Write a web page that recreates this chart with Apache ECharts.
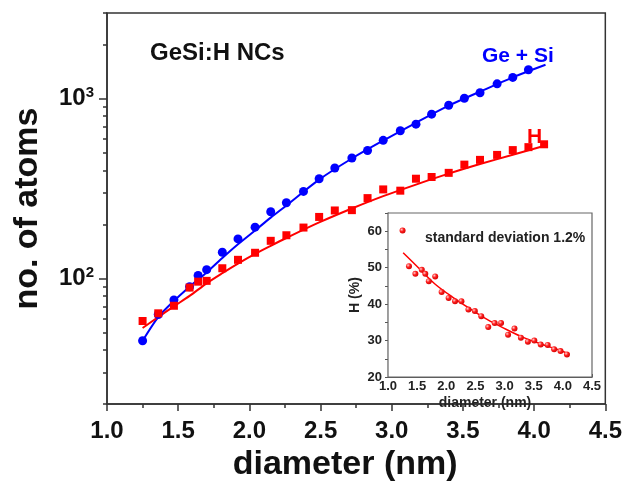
<!DOCTYPE html>
<html>
<head>
<meta charset="utf-8">
<script src="https://cdn.jsdelivr.net/npm/echarts@6/dist/echarts.min.js"></script>
<style>
  html, body { margin: 0; padding: 0; background: #fff; }
  #chart { width: 625px; height: 487px; }
</style>
</head>
<body>
<div id="chart"></div>
<script>
// Nanocrystal diameter (nm) for each measured cluster
const diameter = [1.25, 1.36, 1.47, 1.58, 1.64, 1.70, 1.81, 1.92, 2.04, 2.15, 2.26, 2.38, 2.49, 2.60,
                  2.72, 2.83, 2.94, 3.06, 3.17, 3.28, 3.40, 3.51, 3.62, 3.74, 3.85, 3.96, 4.07];
// Number of Ge + Si atoms (first 26 diameters)
const geSiAtoms = [45, 63, 76, 90, 104, 112, 140, 166, 193, 235, 264, 305, 359, 412,
                   468, 515, 587, 664, 722, 821, 920, 1007, 1080, 1211, 1314, 1449];
// Number of H atoms
const hAtoms = [58, 64, 70.5, 89, 96, 97, 114, 127, 139, 162, 174, 192, 220, 239,
                240, 280, 313, 308, 359, 367, 387, 430, 457, 487, 518, 538, 558];
// Hydrogen content (%)
const hPercent = [60.2, 50.4, 48.3, 49.4, 48.3, 46.3, 47.6, 43.3, 41.7, 40.8, 40.8, 38.5, 38.1, 36.7,
                  33.7, 34.8, 34.8, 31.6, 33.3, 30.8, 29.7, 30.0, 28.9, 28.8, 27.6, 27.1, 26.2];

// Fitted curves
const geSiFitD = [1.25, 1.36, 1.47, 1.58, 1.70, 1.81, 1.92, 2.04, 2.15, 2.26, 2.49, 2.72, 2.94, 3.17, 3.40, 3.62, 3.85, 4.08];
const geSiFit  = [45, 61, 75, 90, 108, 130, 155, 185, 218, 255, 355, 465, 585, 735, 915, 1095, 1315, 1545];
const hFitD = [1.25, 1.36, 1.47, 1.58, 1.70, 1.81, 1.92, 2.04, 2.15, 2.26, 2.49, 2.72, 2.94, 3.17, 3.40, 3.62, 3.85, 4.08];
const hFit  = [53, 61, 70, 80, 94, 107, 121, 137, 152, 168, 205, 245, 287, 333, 383, 433, 488, 550];
const pctFitD = [1.26, 1.5, 1.8, 2.1, 2.4, 2.7, 3.0, 3.3, 3.6, 3.9, 4.11];
const pctFit  = [54.1, 50.3, 45.6, 42.0, 38.8, 35.8, 33.3, 31.0, 29.2, 27.6, 26.3];

// Axis tick values
const xTicks = ['1.0', '1.5', '2.0', '2.5', '3.0', '3.5', '4.0', '4.5'];
const yMajorTicks = [100, 1000];
const yMinorTicks = [20, 30, 40, 50, 60, 70, 80, 90, 200, 300, 400, 500, 600, 700, 800, 900, 2000, 3000];
const insetYTicks = [20, 30, 40, 50, 60];

const FONT = "'Liberation Sans', Arial, Helvetica, sans-serif";
const AX = '#333';
const TXT = '#111';
const BLUE = '#0000ff';
const RED = '#ff0000';

const zip = (xs, ys) => ys.map((y, i) => [xs[i], y]);
const lg = v => Math.log10(v);

const chart = echarts.init(document.getElementById('chart'), null, { renderer: 'canvas' });

const redBall = new echarts.graphic.RadialGradient(0.35, 0.35, 0.7, [
  { offset: 0, color: '#ffd0d0' },
  { offset: 0.45, color: '#ff2020' },
  { offset: 1, color: '#d00000' }
]);

chart.setOption({
  animation: false,
  backgroundColor: '#fff',
  textStyle: { fontFamily: FONT },
  grid: [
    { left: 107, top: 13, width: 503, height: 400, show: true, borderColor: AX, borderWidth: 1.5, backgroundColor: 'transparent' },
    { left: 388, top: 213, width: 204, height: 164, show: true, borderColor: '#666', borderWidth: 1.2, backgroundColor: '#fff', z: 3 }
  ],
  xAxis: [
    {
      gridIndex: 0, type: 'value', min: 1, max: 4.5, interval: 0.5,
      axisLine: { lineStyle: { color: AX, width: 1.5 } },
      axisTick: { length: 7, lineStyle: { color: AX, width: 1.5 } },
      minorTick: { show: true, splitNumber: 2, length: 4, lineStyle: { color: AX, width: 1.5 } },
      splitLine: { show: false },
      axisLabel: {
        formatter: v => xTicks[Math.round((v - 1) / 0.5)] || '',
        fontSize: 24, fontWeight: 'bold', color: TXT, margin: 15, fontFamily: FONT
      },
      name: 'diameter (nm)', nameLocation: 'middle', nameGap: 38,
      nameTextStyle: { fontSize: 34, fontWeight: 'bold', color: TXT, fontFamily: FONT, padding: [0, 22, 0, 0] }
    },
    {
      gridIndex: 1, type: 'value', min: 1, max: 4.5, interval: 0.5,
      axisLine: { lineStyle: { color: '#555', width: 1.2 } },
      axisTick: { inside: true, length: 3, lineStyle: { color: '#555', width: 1 } },
      minorTick: { show: true, splitNumber: 2, length: 2, lineStyle: { color: '#555', width: 1 } },
      splitLine: { show: false },
      axisLabel: {
        formatter: v => v.toFixed(1),
        fontSize: 13, fontWeight: 'bold', color: '#222', margin: 3, fontFamily: FONT
      },
      name: 'diameter (nm)', nameLocation: 'middle', nameGap: 19,
      nameTextStyle: { fontSize: 14, fontWeight: 'bold', color: '#222', fontFamily: FONT, padding: [0, 10, 0, 0] }
    }
  ],
  yAxis: [
    {
      gridIndex: 0, type: 'log', logBase: 10, min: 20, max: 3000,
      axisLine: { show: true, lineStyle: { color: AX, width: 1.5 } },
      axisTick: { show: false },
      minorTick: { show: false },
      splitLine: { show: false },
      axisLabel: {
        margin: 13,
        formatter: v => {
          const r = Math.round(v);
          if (r === yMajorTicks[0]) return '{b|10}{s|2}';
          if (r === yMajorTicks[1]) return '{b|10}{s|3}';
          return '';
        },
        rich: {
          b: { fontSize: 24, fontWeight: 'bold', color: TXT, fontFamily: FONT },
          s: { fontSize: 15, fontWeight: 'bold', color: TXT, fontFamily: FONT, padding: [0, 0, 12, 0] }
        }
      },
      name: 'no. of atoms', nameLocation: 'middle', nameGap: 62,
      nameTextStyle: { fontSize: 34, fontWeight: 'bold', color: TXT, fontFamily: FONT }
    },
    {
      // long ticks at the decades
      gridIndex: 0, type: 'value', position: 'left', min: lg(20), max: lg(3000),
      axisLine: { show: false }, axisLabel: { show: false }, splitLine: { show: false },
      axisTick: { show: true, length: 8, customValues: yMajorTicks.map(lg), lineStyle: { color: AX, width: 1.5 } }
    },
    {
      // short ticks between the decades
      gridIndex: 0, type: 'value', position: 'left', min: lg(20), max: lg(3000),
      axisLine: { show: false }, axisLabel: { show: false }, splitLine: { show: false },
      axisTick: { show: true, length: 4, customValues: yMinorTicks.map(lg), lineStyle: { color: AX, width: 1.5 } }
    },
    {
      gridIndex: 1, type: 'value', min: 20, max: 65, interval: 5,
      axisLine: { show: true, lineStyle: { color: '#555', width: 1.2 } },
      axisTick: { length: 3, lineStyle: { color: '#555', width: 1 } },
      splitLine: { show: false },
      axisLabel: {
        formatter: v => (insetYTicks.indexOf(v) >= 0 ? String(v) : ''),
        fontSize: 13, fontWeight: 'bold', color: '#222', margin: 6, fontFamily: FONT
      },
      name: 'H (%)', nameLocation: 'middle', nameGap: 26,
      nameTextStyle: { fontSize: 14, fontWeight: 'bold', color: '#222', fontFamily: FONT }
    }
  ],
  series: [
    {
      name: 'Ge + Si fit', type: 'line', xAxisIndex: 0, yAxisIndex: 0,
      data: zip(geSiFitD, geSiFit), showSymbol: false, smooth: 0.3,
      lineStyle: { color: BLUE, width: 2 }, z: 2
    },
    {
      name: 'H fit', type: 'line', xAxisIndex: 0, yAxisIndex: 0,
      data: zip(hFitD, hFit), showSymbol: false, smooth: 0.3,
      lineStyle: { color: RED, width: 2 }, z: 2
    },
    {
      name: 'Ge + Si', type: 'scatter', xAxisIndex: 0, yAxisIndex: 0,
      data: zip(diameter, geSiAtoms), symbol: 'circle', symbolSize: 9,
      itemStyle: { color: BLUE, opacity: 1 }, z: 3
    },
    {
      name: 'H', type: 'scatter', xAxisIndex: 0, yAxisIndex: 0,
      data: zip(diameter, hAtoms), symbol: 'rect', symbolSize: 8,
      itemStyle: { color: RED, opacity: 1 }, z: 4
    },
    {
      name: 'H % fit', type: 'line', xAxisIndex: 1, yAxisIndex: 3,
      data: zip(pctFitD, pctFit), showSymbol: false, smooth: 0.3,
      lineStyle: { color: RED, width: 1.5 }, z: 5
    },
    {
      name: 'H %', type: 'scatter', xAxisIndex: 1, yAxisIndex: 3,
      data: zip(diameter, hPercent), symbol: 'circle', symbolSize: 6,
      itemStyle: { color: redBall, opacity: 1 }, z: 6
    }
  ],
  graphic: [
    { type: 'text', x: 150, y: 53, z: 10,
      style: { text: 'GeSi:H NCs', font: `bold 24px ${FONT}`, fill: TXT, verticalAlign: 'middle' } },
    { type: 'text', x: 482, y: 56, z: 10,
      style: { text: 'Ge + Si', font: `bold 21px ${FONT}`, fill: BLUE, verticalAlign: 'middle' } },
    { type: 'text', x: 527, y: 137, z: 10,
      style: { text: 'H', font: `bold 21px ${FONT}`, fill: RED, verticalAlign: 'middle' } },
    { type: 'text', x: 425, y: 238, z: 10,
      style: { text: 'standard deviation 1.2%', font: `bold 14px ${FONT}`, fill: '#222', verticalAlign: 'middle' } }
  ]
});
</script>
</body>
</html>
